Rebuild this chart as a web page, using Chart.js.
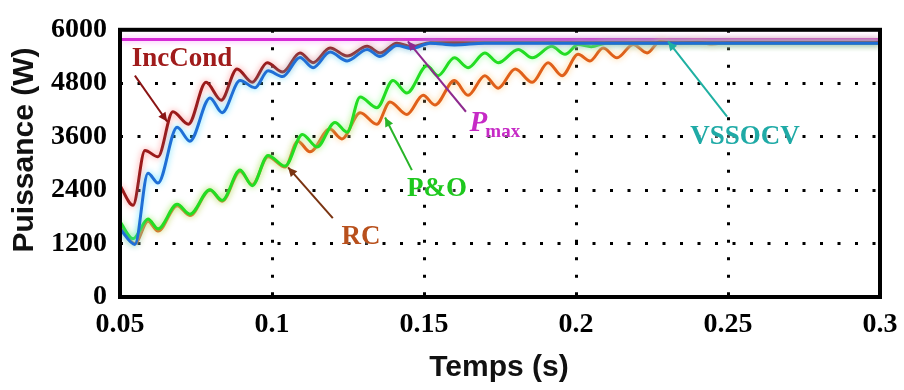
<!DOCTYPE html>
<html>
<head>
<meta charset="utf-8">
<script src="https://cdn.jsdelivr.net/npm/chart.js@4.4.1/dist/chart.umd.min.js"></script>
<style>
  body { margin: 0; background: #fff; }
  canvas { display: block; }
</style>
</head>
<body>
<canvas id="chart" width="904" height="390"></canvas>
<script>
// time (s) and power (W)
const xTicks = [0.05, 0.1, 0.15, 0.2, 0.25, 0.3];
const xTickLabels = ['0.05', '0.1', '0.15', '0.2', '0.25', '0.3'];
const yTicks = [0, 1200, 2400, 3600, 4800, 6000];
const yTickLabels = ['0', '1200', '2400', '3600', '4800', '6000'];

const incCondT = [0.05, 0.0543, 0.0582, 0.0625, 0.0674, 0.0725, 0.0783, 0.0833, 0.0885, 0.0935, 0.0984, 0.1035, 0.1092, 0.1135, 0.1191, 0.1247, 0.1313, 0.1355, 0.1411, 0.146, 0.152, 0.3];
const incCondP = [2500, 2060, 3290, 3150, 4160, 3880, 4820, 4420, 5120, 4820, 5260, 5050, 5480, 5260, 5590, 5410, 5630, 5480, 5700, 5620, 5710, 5710];

const vssocvT = [0.05, 0.0549, 0.0592, 0.0625, 0.0688, 0.073, 0.0796, 0.0836, 0.0895, 0.0944, 0.0987, 0.1035, 0.1092, 0.1135, 0.1191, 0.1247, 0.1313, 0.1355, 0.1411, 0.146, 0.152, 0.16, 0.17, 0.3];
const vssocvP = [1530, 1180, 2780, 2560, 3810, 3500, 4470, 4140, 4860, 4700, 5080, 4950, 5380, 5150, 5500, 5300, 5560, 5400, 5650, 5580, 5700, 5660, 5700, 5700];

const poT = [0.05, 0.0543, 0.0592, 0.0625, 0.0688, 0.073, 0.0796, 0.0836, 0.0895, 0.0935, 0.0987, 0.1043, 0.110, 0.1148, 0.1207, 0.1247, 0.129, 0.1345, 0.1398, 0.1444, 0.151, 0.1546, 0.160, 0.1645, 0.170, 0.1744, 0.181, 0.1856, 0.192, 0.1964, 0.2007, 0.205, 0.21, 0.3];
const poP = [1690, 1310, 1750, 1530, 2080, 1860, 2410, 2170, 2850, 2500, 3180, 2940, 3650, 3370, 3920, 3700, 4490, 4250, 4860, 4580, 5190, 4970, 5370, 5150, 5480, 5260, 5560, 5370, 5630, 5450, 5670, 5620, 5700, 5700];

const rcT = [0.05, 0.0549, 0.0592, 0.0625, 0.0688, 0.073, 0.0796, 0.0836, 0.0895, 0.0935, 0.0987, 0.1043, 0.1085, 0.1125, 0.119, 0.123, 0.129, 0.1345, 0.1388, 0.1444, 0.1497, 0.1536, 0.160, 0.1645, 0.170, 0.1744, 0.180, 0.1856, 0.1908, 0.1954, 0.2007, 0.2046, 0.2089, 0.2135, 0.2188, 0.2234, 0.2276, 0.232, 0.24, 0.245, 0.25, 0.3];
const rcP = [1600, 1200, 1700, 1480, 2050, 1830, 2400, 2150, 2820, 2520, 3150, 2920, 3500, 3260, 3770, 3550, 4140, 3880, 4380, 4100, 4530, 4310, 4860, 4530, 4970, 4690, 5120, 4820, 5260, 4970, 5450, 5300, 5590, 5370, 5670, 5480, 5740, 5690, 5720, 5680, 5710, 5710];

const pmaxT = [0.05, 0.3];
const pmaxP = [5780, 5780];

// labels: [text, t, P, colour]; arrows: [t0, P0, t1, P1, colour]
const labels = [
  ['IncCond', 0.0704, 5340, '#a01c1c'],
  ['P&O', 0.1543, 2430, '#1ec81e'],
  ['RC', 0.1293, 1340, '#b8501c'],
  ['VSSOCV', 0.2556, 3590, '#1faaa6']
];
const arrows = [
  [0.0549, 4970, 0.0655, 3940, '#8a1414'],
  [0.146, 2850, 0.1372, 4030, '#28b428'],
  [0.120, 1770, 0.1053, 2910, '#7a3412'],
  [0.1638, 4160, 0.1447, 5740, '#8e2a8e'],
  [0.2497, 4050, 0.2303, 5740, '#1fb0a2']
];

function pts(t, p) {
  return t.map((v, i) => ({ x: v, y: p[i] }));
}

function series(label, t, p, color, glow) {
  return {
    label: label,
    data: pts(t, p),
    borderColor: color,
    glow: glow,
    borderWidth: 3,
    pointRadius: 0,
    cubicInterpolationMode: 'monotone',
    fill: false
  };
}

const glowPlugin = {
  id: 'glow',
  beforeDatasetDraw(chart, args) {
    const ds = chart.data.datasets[args.index];
    chart.ctx.save();
    chart.ctx.shadowColor = ds.glow;
    chart.ctx.shadowBlur = 6;
  },
  afterDatasetDraw(chart) {
    chart.ctx.restore();
  }
};

const decorPlugin = {
  id: 'decor',
  afterDatasetsDraw(chart) {
    const ctx = chart.ctx;
    const a = chart.chartArea;
    const xs = chart.scales.x;
    const ys = chart.scales.y;

    ctx.save();
    ctx.strokeStyle = '#000';
    ctx.lineWidth = 4;
    ctx.strokeRect(a.left, a.top, a.right - a.left, a.bottom - a.top);

    // arrows
    arrows.forEach(([t0, p0, t1, p1, c]) => {
      const x0 = xs.getPixelForValue(t0), y0 = ys.getPixelForValue(p0);
      const x1 = xs.getPixelForValue(t1), y1 = ys.getPixelForValue(p1);
      ctx.strokeStyle = c;
      ctx.fillStyle = c;
      ctx.lineWidth = 2;
      ctx.beginPath();
      ctx.moveTo(x0, y0);
      ctx.lineTo(x1, y1);
      ctx.stroke();
      const ang = Math.atan2(y1 - y0, x1 - x0);
      ctx.beginPath();
      ctx.moveTo(x1, y1);
      ctx.lineTo(x1 - 10 * Math.cos(ang - 0.45), y1 - 10 * Math.sin(ang - 0.45));
      ctx.lineTo(x1 - 10 * Math.cos(ang + 0.45), y1 - 10 * Math.sin(ang + 0.45));
      ctx.closePath();
      ctx.fill();
    });

    // text labels
    ctx.textAlign = 'center';
    ctx.textBaseline = 'middle';
    ctx.font = 'bold 27px "Liberation Serif", "DejaVu Serif", serif';
    labels.forEach(([txt, t, p, c]) => {
      ctx.shadowColor = 'rgba(255,255,255,0.9)';
      ctx.shadowBlur = 4;
      ctx.fillStyle = c;
      ctx.fillText(txt, xs.getPixelForValue(t), ys.getPixelForValue(p));
    });

    // P_max
    const px = xs.getPixelForValue(0.165), py = ys.getPixelForValue(3900);
    ctx.fillStyle = '#c62ac6';
    ctx.textAlign = 'left';
    ctx.font = 'italic bold 29px "Liberation Serif", serif';
    ctx.fillText('P', px, py);
    const w = ctx.measureText('P').width;
    ctx.font = 'bold 19px "Liberation Serif", serif';
    ctx.fillText('max', px + w - 2, py + 9);

    // axis titles
    ctx.shadowBlur = 0;
    ctx.fillStyle = '#111';
    ctx.font = 'bold 30px "Liberation Sans", Arial, sans-serif';
    ctx.textAlign = 'center';
    ctx.fillText('Temps (s)', 499, 368);
    ctx.translate(25, 150);
    ctx.rotate(-Math.PI / 2);
    ctx.fillText('Puissance (W)', 0, 0);
    ctx.restore();
  }
};

new Chart(document.getElementById('chart'), {
  type: 'line',
  data: {
    datasets: [
      series('VSSOCV', vssocvT, vssocvP, '#1f6fd6', 'rgba(80,220,255,0.9)'),
      series('IncCond', incCondT, incCondP, '#9b1a1a', 'rgba(255,120,120,0.8)'),
      series('P&O', poT, poP, '#22dd22', 'rgba(140,255,140,0.9)'),
      series('RC', rcT, rcP, '#e0601a', 'rgba(255,200,120,0.9)'),
      series('Pmax', pmaxT, pmaxP, '#d62ad6', 'rgba(255,150,255,0.9)')
    ]
  },
  options: {
    responsive: false,
    animation: false,
    devicePixelRatio: 1,
    layout: { padding: { left: 0, top: 23, right: 24, bottom: 0 } },
    plugins: { legend: { display: false }, tooltip: { enabled: false } },
    scales: {
      x: {
        type: 'linear',
        min: 0.05,
        max: 0.3,
        afterBuildTicks: s => { s.ticks = xTicks.map(v => ({ value: v })); },
        afterFit: s => { s.height = 93; s.paddingLeft = 0; s.paddingRight = 0; },
        ticks: {
          callback: (v, i) => xTickLabels[i],
          color: '#000',
          padding: 11,
          maxRotation: 0,
          font: { family: '"Liberation Serif", serif', size: 28, weight: 'bold' }
        },
        grid: { color: '#000', lineWidth: 3, drawTicks: false },
        border: { display: false, dash: [3, 14.5] }
      },
      y: {
        min: 0,
        max: 6000,
        afterBuildTicks: s => { s.ticks = yTicks.map(v => ({ value: v })); },
        afterFit: s => { s.width = 120; },
        ticks: {
          callback: (v, i) => yTickLabels[i],
          color: '#000',
          padding: 13,
          font: { family: '"Liberation Serif", serif', size: 28, weight: 'bold' }
        },
        grid: { color: '#000', lineWidth: 3, drawTicks: false },
        border: { display: false, dash: [3, 14.5] }
      }
    }
  },
  plugins: [glowPlugin, decorPlugin]
});
</script>
</body>
</html>
